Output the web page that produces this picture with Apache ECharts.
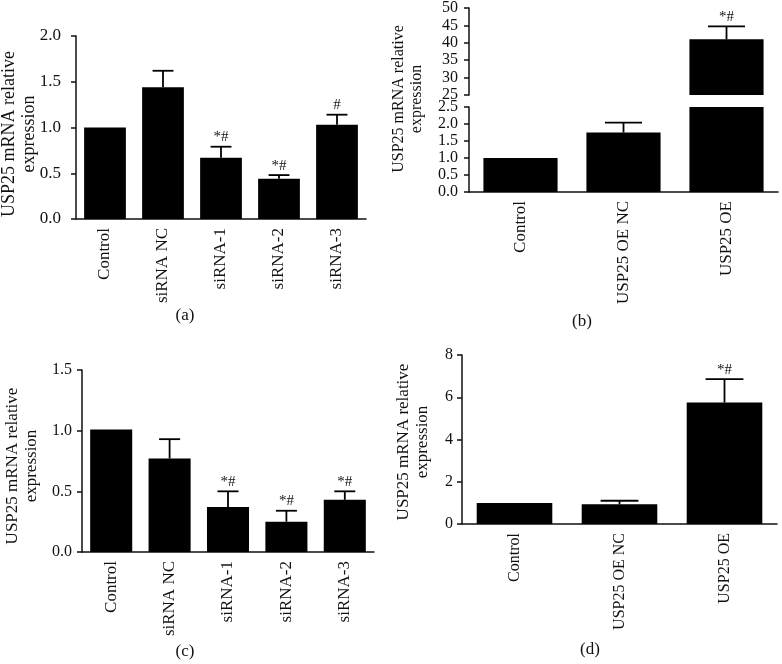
<!DOCTYPE html>
<html>
<head>
<meta charset="utf-8">
<script src="https://cdn.jsdelivr.net/npm/echarts@6/dist/echarts.min.js"></script>
<style>
html,body{margin:0;padding:0;background:#fff;}
#chart{width:782px;height:664px;}
</style>
</head>
<body>
<div id="chart"></div>
<script>
// ---------- data ----------
const catsA = ['Control', 'siRNA NC', 'siRNA-1', 'siRNA-2', 'siRNA-3'];
const meanA = [1.0, 1.44, 0.67, 0.44, 1.03];
const errA  = [null, 1.62, 0.79, 0.48, 1.14];
const markA = ['', '', '*#', '*#', '#'];

const catsB = ['Control', 'USP25 OE NC', 'USP25 OE'];
const meanB = [1.0, 1.75, 41.0];
const errB  = [null, 2.04, 44.7];
const markB = ['', '', '*#'];

const catsC = ['Control', 'siRNA NC', 'siRNA-1', 'siRNA-2', 'siRNA-3'];
const meanC = [1.01, 0.77, 0.37, 0.25, 0.43];
const errC  = [null, 0.93, 0.50, 0.34, 0.50];
const markC = ['', '', '*#', '*#', '*#'];

const catsD = ['Control', 'USP25 OE NC', 'USP25 OE'];
const meanD = [1.0, 0.93, 5.75];
const errD  = [null, 1.10, 6.86];
const markD = ['', '', '*#'];

const ticksA = {min: 0, max: 2.0, interval: 0.5};
const ticksBlow = {min: 0, max: 2.5, interval: 0.5};
const ticksBup = {min: 25, max: 50, interval: 5};
const ticksC = {min: 0, max: 1.5, interval: 0.5};
const ticksD = {min: 0, max: 8, interval: 2};

const yTitle = 'USP25 mRNA relative\nexpression';
const panelLabels = ['(a)', '(b)', '(c)', '(d)'];

// ---------- styles ----------
const FONT = 'Liberation Serif';
const INK = '#111';
const BAR = '#000';

function xAxisCfg(cats, gridIndex, fs, show) {
  return {
    type: 'category', gridIndex: gridIndex, data: cats, show: show !== false,
    axisLine: {lineStyle: {color: INK, width: 1.5}},
    axisTick: {alignWithLabel: true, length: 5, lineStyle: {color: INK, width: 1.5}},
    axisLabel: {rotate: 90, margin: 9, fontSize: fs, fontFamily: FONT, color: INK, interval: 0}
  };
}
function yAxisCfg(t, gridIndex, dec, fs, margin) {
  return {
    type: 'value', gridIndex: gridIndex, min: t.min, max: t.max, interval: t.interval,
    axisLine: {show: true, lineStyle: {color: INK, width: 1.5}},
    axisTick: {show: true, length: 5, lineStyle: {color: INK, width: 1.5}},
    splitLine: {show: false},
    axisLabel: {fontSize: fs, fontFamily: FONT, color: INK, margin: margin,
      formatter: v => v.toFixed(dec)}
  };
}
function barSeries(vals, idx) {
  return {
    type: 'bar', xAxisIndex: idx, yAxisIndex: idx, data: vals, barWidth: '72%',
    itemStyle: {color: BAR}, clip: true, silent: true, animation: false
  };
}
function errSeries(mean, err, mark, idx, clip) {
  const data = [];
  mean.forEach((m, i) => { if (err[i] != null) data.push([i, m, err[i], mark[i]]); });
  return {
    type: 'custom', xAxisIndex: idx, yAxisIndex: idx, data: data, clip: !!clip,
    silent: true, animation: false, z: 5,
    renderItem: function (params, api) {
      const i = api.value(0);
      const pTop = api.coord([i, api.value(1)]);
      const pErr = api.coord([i, api.value(2)]);
      const band = api.size([1, 0])[0];
      const half = band * 0.72 / 4;
      const m = data[params.dataIndex][3];
      const children = [
        {type: 'line', shape: {x1: pTop[0], y1: pTop[1], x2: pErr[0], y2: pErr[1]},
         style: {stroke: BAR, lineWidth: 1.8}},
        {type: 'line', shape: {x1: pErr[0] - half, y1: pErr[1], x2: pErr[0] + half, y2: pErr[1]},
         style: {stroke: BAR, lineWidth: 1.8}}
      ];
      if (m) {
        children.push({type: 'text', x: pErr[0], y: pErr[1] - 2,
          style: {text: m, align: 'center', verticalAlign: 'bottom', fontSize: 15, fontFamily: FONT, fill: INK}});
      }
      return {type: 'group', children: children};
    }
  };
}
function yTitleText(x, y, fs) {
  return {type: 'text', x: x, y: y, rotation: Math.PI / 2,
    style: {text: yTitle, align: 'center', verticalAlign: 'middle', fontSize: fs, fontFamily: FONT, fill: INK, lineHeight: fs + 2}};
}
function panelText(i, x, y) {
  return {type: 'text', x: x, y: y,
    style: {text: panelLabels[i], align: 'center', verticalAlign: 'middle', fontSize: 17, fontFamily: FONT, fill: INK}};
}

const chart = echarts.init(document.getElementById('chart'), null, {renderer: 'canvas'});
const option = {
  animation: false,
  backgroundColor: '#fff',
  grid: [
    {left: 76, top: 36, width: 290, height: 183},   // a
    {left: 469, top: 7, width: 309, height: 88},    // b upper
    {left: 469, top: 107, width: 309, height: 85},  // b lower
    {left: 82, top: 370, width: 292, height: 182},  // c
    {left: 462, top: 355, width: 315, height: 169}  // d
  ],
  xAxis: [
    xAxisCfg(catsA, 0, 17),
    xAxisCfg(catsB, 1, 17, false),
    xAxisCfg(catsB, 2, 17),
    xAxisCfg(catsC, 3, 17),
    xAxisCfg(catsD, 4, 16)
  ],
  yAxis: [
    yAxisCfg(ticksA, 0, 1, 17, 15),
    yAxisCfg(ticksBup, 1, 0, 16, 11),
    yAxisCfg(ticksBlow, 2, 1, 16, 11),
    yAxisCfg(ticksC, 3, 1, 16, 10),
    yAxisCfg(ticksD, 4, 0, 16, 9)
  ],
  series: [
    barSeries(meanA, 0), errSeries(meanA, errA, markA, 0, false),
    barSeries(meanB, 1), errSeries(meanB, errB, markB, 1, true),
    barSeries(meanB, 2), errSeries(meanB, errB, markB, 2, true),
    barSeries(meanC, 3), errSeries(meanC, errC, markC, 3, false),
    barSeries(meanD, 4), errSeries(meanD, errD, markD, 4, false)
  ],
  graphic: [
    yTitleText(19, 134, 18),
    yTitleText(408, 99, 16),
    yTitleText(22, 466, 17),
    yTitleText(413, 442, 17),
    panelText(0, 185, 316),
    panelText(1, 582, 322),
    panelText(2, 185, 652),
    panelText(3, 590, 650)
  ]
};
chart.setOption(option);
</script>
</body>
</html>
